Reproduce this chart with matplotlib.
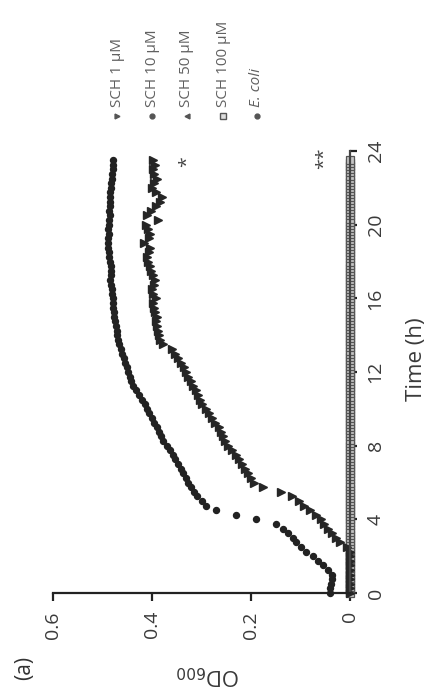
import numpy as np
import matplotlib
matplotlib.use('Agg')
import matplotlib.pyplot as plt
from matplotlib.lines import Line2D

# sampling times (h) and OD600 readings
time = np.arange(0, 23.75, 0.25)
flat_time = np.arange(0, 23.6, 1 / 6)

ecoli = [0.040, 0.040, 0.039, 0.037,
         0.037, 0.045, 0.055, 0.065,
         0.075, 0.088, 0.100, 0.110,
         0.115, 0.125, 0.135, 0.150,
         0.190, 0.230, 0.270, 0.290,
         0.300, 0.310, 0.315, 0.322,
         0.328, 0.332, 0.337, 0.342,
         0.348, 0.353, 0.358, 0.363,
         0.370, 0.377, 0.382, 0.386,
         0.390, 0.395, 0.400, 0.406,
         0.410, 0.415, 0.420, 0.427,
         0.433, 0.438, 0.442, 0.445,
         0.448, 0.451, 0.454, 0.457,
         0.460, 0.463, 0.466, 0.468,
         0.470, 0.471, 0.472, 0.474,
         0.476, 0.477, 0.478, 0.478,
         0.479, 0.480, 0.481, 0.483,
         0.484, 0.483, 0.482, 0.483,
         0.485, 0.486, 0.487, 0.488,
         0.488, 0.489, 0.487, 0.488,
         0.487, 0.486, 0.485, 0.486,
         0.485, 0.484, 0.485, 0.484,
         0.483, 0.482, 0.481, 0.480,
         0.479, 0.478, 0.478]

sch1 = [0.0, 0.0, 0.0, 0.0,
        0.0, 0.0, 0.0, 0.0,
        0.0, 0.0, 0.006, 0.020,
        0.028, 0.036, 0.045, 0.052,
        0.058, 0.068, 0.080, 0.092,
        0.104, 0.117, 0.140, 0.175,
        0.193, 0.200, 0.206, 0.212,
        0.218, 0.225, 0.231, 0.238,
        0.246, 0.252, 0.256, 0.260,
        0.265, 0.272, 0.279, 0.284,
        0.290, 0.298, 0.303, 0.308,
        0.312, 0.317, 0.322, 0.327,
        0.331, 0.336, 0.341, 0.347,
        0.353, 0.360, 0.378, 0.383,
        0.385, 0.388, 0.390, 0.392,
        0.390, 0.393, 0.395, 0.397,
        0.392, 0.398, 0.400, 0.396,
        0.394, 0.398, 0.402, 0.405,
        0.408, 0.410, 0.406, 0.404,
        0.416, 0.407, 0.404, 0.408,
        0.412, 0.388, 0.410, 0.402,
        0.392, 0.384, 0.380, 0.392,
        0.400, 0.396, 0.390, 0.395,
        0.398, 0.394, 0.398]

# 10, 50 and 100 uM stay at the baseline the whole run
sch10 = [0.0] * len(flat_time)
sch50 = [0.0] * len(flat_time)
sch100 = [0.0] * len(flat_time)

od_ticks = [0.6, 0.4, 0.2, 0]
od_labels = ['0.6', '0.4', '0.2', '0']
time_ticks = [0, 4, 8, 12, 16, 20, 24]

legend_labels = ['SCH 1 μM', 'SCH 10 μM', 'SCH 50 μM', 'SCH 100 μM', 'E. coli']
legend_markers = ['>', 'o', '<', 's', 'o']

plt.rcParams['font.family'] = ['Open Sans', 'DejaVu Sans']

fig = plt.figure(figsize=(4.3, 6.94), dpi=100)
# the whole panel is turned a quarter turn: OD runs right-to-left, time runs upward
ax = fig.add_axes([53 / 430, 101 / 694, 297 / 430, 442 / 694])

ax.plot(sch10, flat_time, 'o', ms=5, mfc='#cfcfcf', mec='#666666', mew=0.8, clip_on=False)
ax.plot(sch50, flat_time, '<', ms=5, mfc='#cfcfcf', mec='#666666', mew=0.8, clip_on=False)
ax.plot(sch100, flat_time, 's', ms=6.3, mfc='#c4c4c4', mec='#555555', mew=0.9, clip_on=False)
ax.plot(sch1, time, '>', ms=5.2, color='#262626', clip_on=False)
ax.plot(ecoli, time, 'o', ms=4.3, color='#222222', clip_on=False)

ax.set_xlim(0.6, 0)
ax.set_ylim(0, 24)
ax.spines['top'].set_visible(False)
ax.spines['left'].set_visible(False)
ax.spines['bottom'].set_linewidth(1.6)
ax.spines['right'].set_linewidth(1.6)
ax.spines['bottom'].set_color('#222222')
ax.spines['right'].set_color('#444444')

ax.yaxis.tick_right()
ax.yaxis.set_label_position('right')
ax.set_xticks(od_ticks)
ax.set_xticklabels(od_labels)
ax.set_yticks(time_ticks)
ax.set_yticklabels([str(t) for t in time_ticks])
ax.tick_params(axis='x', labelrotation=90, length=6, width=1.6, pad=7,
               labelsize=14, colors='#222222', labelcolor='#3a3a3a')
ax.tick_params(axis='y', labelrotation=90, length=5, width=1.6, pad=7,
               labelsize=14, colors='#222222', labelcolor='#3a3a3a')
for lab in ax.get_yticklabels():
    lab.set_va('center')

ax.set_xlabel('OD$_{600}$', rotation=180, fontsize=16, color='#3a3a3a')
ax.xaxis.set_label_coords(0.52, -0.185)
ax.set_ylabel('Time (h)', rotation=90, fontsize=16, color='#3a3a3a')
ax.yaxis.set_label_coords(1.225, 0.53)
ax.xaxis.label.set_va('center')
ax.yaxis.label.set_va('center')

# significance marks at the end of the run
ax.text(0.33, 23.4, '*', rotation=90, fontsize=14, ha='center', va='center', color='#444444')
ax.text(0.052, 23.6, '**', rotation=90, fontsize=14, ha='center', va='center', color='#444444')

fig.text(25 / 430, 1 - 668 / 694, '(a)', rotation=90, fontsize=15,
         ha='center', va='center', color='#333333')

# legend, drawn as a row of turned labels above the plot
legend_x = [117, 152, 187, 223, 257]
for x, lab, mk in zip(legend_x, legend_labels, legend_markers):
    fx = x / 430
    fig.add_artist(Line2D([fx], [1 - 116 / 694], marker=mk, ms=3.5 if mk != 's' else 4,
                          color='#555555', mfc='#555555' if mk != 's' else '#dddddd',
                          mec='#555555', transform=fig.transFigure))
    style = 'italic' if lab == 'E. coli' else 'normal'
    fig.text(fx, 1 - 107 / 694, lab, rotation=90, fontsize=11, style=style,
             ha='center', va='bottom', color='#606060')

fig.savefig('out.png', dpi=100)
